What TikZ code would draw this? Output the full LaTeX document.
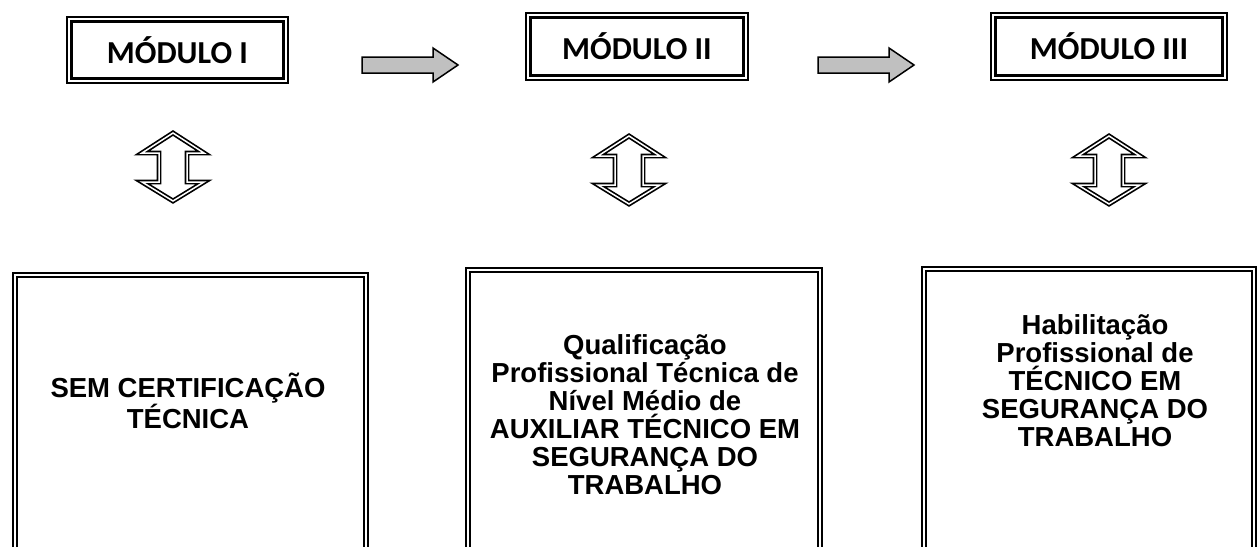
\documentclass[tikz,border=0pt]{standalone}
\usepackage{fontspec}
\setmainfont{Liberation Sans}
\newfontfamily\calib{Carlito}
\definecolor{arrowgray}{RGB}{192,192,192}
\begin{document}
\begin{tikzpicture}[x=1pt,y=-1pt,
  modbox/.style={draw, line width=2.4pt, double=white, double distance=2pt,
    inner sep=0pt, outer sep=0pt, font=\calib\bfseries\fontsize{32}{34}\selectfont},
  bigbox/.style={draw, line width=2pt, double=white, double distance=2pt,
    inner sep=0pt, outer sep=0pt},
  boxtext/.style={align=center, inner sep=0pt, font=\bfseries\fontsize{27.5}{28}\selectfont},
  blockarrow/.style={draw=black, fill=arrowgray, line width=1.5pt, line join=miter},
  updown/.style={draw=black, line width=1.7pt, double=white, double distance=1.5pt,
    fill=white, line join=miter}
]
\useasboundingbox (0,0) rectangle (1257,546);
\clip (0,0) rectangle (1257,546);

% top module boxes
\node[modbox, minimum width=216.2pt, minimum height=61.2pt] (m1) at (177.5,50) {MÓDULO I};
\node[modbox, minimum width=217.2pt, minimum height=62.2pt] (m2) at (637,46.5) {MÓDULO II};
\node[modbox, minimum width=231.2pt, minimum height=62.2pt] (m3) at (1109,46.5) {MÓDULO III};

% gray block arrows
\foreach \x [count=\i] in {362,818} {
  \draw[blockarrow] (\x,57) -- ++(71,0) -- ++(0,-9) -- ++(25,17) -- ++(-25,17)
    -- ++(0,-9) -- ++(-71,0) -- cycle;
}

% up-down double arrows
\foreach \cx/\ty in {173/133, 629/136, 1109/136} {
  \draw[updown] (\cx,\ty) -- ++(-31,20) -- ++(17,0) -- ++(0,29) -- ++(-17,0)
    -- ++(31,19) -- ++(31,-19) -- ++(-17,0) -- ++(0,-29) -- ++(17,0) -- cycle;
}

% bottom boxes
\node[bigbox, minimum width=351pt, minimum height=305pt] (b1) at (190.5,427.5) {};
\node[bigbox, minimum width=352pt, minimum height=310pt] (b2) at (644,425) {};
\node[bigbox, minimum width=330pt, minimum height=311pt] (b3) at (1089,424.5) {};

\node[boxtext, font=\bfseries\fontsize{27.5}{31}\selectfont] (t1) at (188,401)
  {SEM CERTIFICAÇÃO\\TÉCNICA};
\node[boxtext] (t2) at (645,415)
  {Qualificação\\Profissional Técnica de\\Nível Médio de\\AUXILIAR TÉCNICO EM\\SEGURANÇA DO\\TRABALHO};
\node[boxtext] (t3) at (1095,381)
  {Habilitação\\Profissional de\\TÉCNICO EM\\SEGURANÇA DO\\TRABALHO};
\end{tikzpicture}
\end{document}
